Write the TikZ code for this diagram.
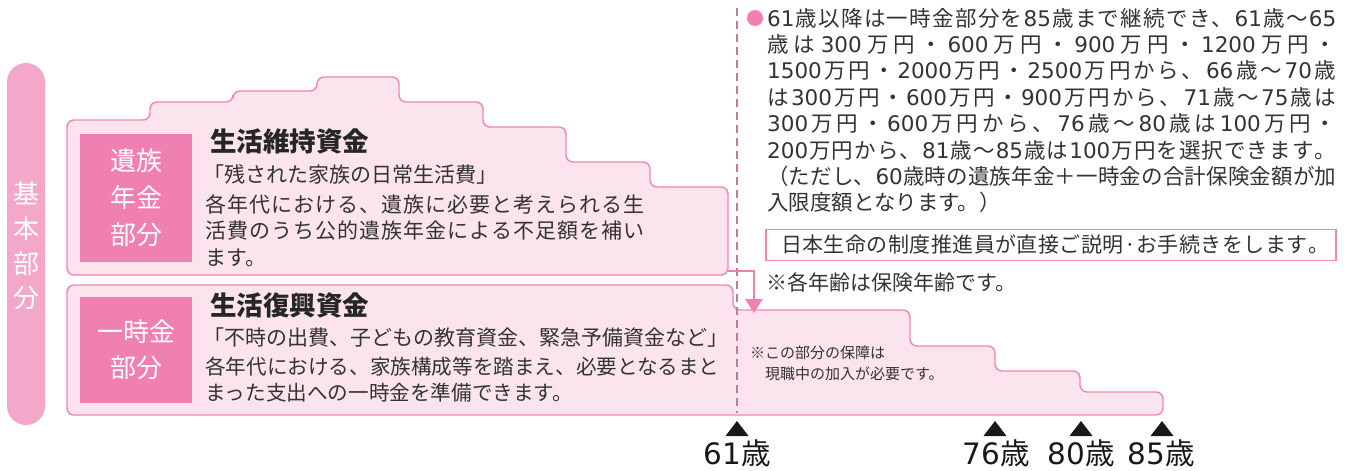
\documentclass[tikz,border=0pt]{standalone}
\usepackage{fontspec}
\setmainfont{Noto Sans CJK JP}
\newfontfamily\numfont{DejaVu Sans}
\newcommand\N[1]{{\numfont #1}}
\makeatletter
\newcommand\jline[2]{\hbox to #1{\@tfor\jl@c:=#2\do{\jl@c\hskip 0pt plus 1fil}\unskip}}
\makeatother
\usetikzlibrary{arrows.meta}
\definecolor{boxfill}{HTML}{FBE4EE}
\definecolor{boxline}{HTML}{EE86B6}
\definecolor{darkpink}{HTML}{EF80B1}
\definecolor{pillpink}{HTML}{F3A8CA}
\definecolor{dashcol}{HTML}{B87E9B}
\definecolor{txt}{HTML}{333333}
\begin{document}
\begin{tikzpicture}[x=1pt,y=-1pt,
  stepbox/.style={fill=boxfill,draw=boxline,line width=1.4pt,rounded corners=7pt},
  darkbox/.style={fill=darkpink,text=white,inner sep=0pt,align=center,minimum width=112pt,font=\fontsize{26}{37}\selectfont},
  title/.style={anchor=base west,inner sep=0pt,text=black!85,font=\fontsize{26.5}{30}\selectfont\bfseries},
  body/.style={anchor=base west,inner sep=0pt,text=txt,font=\fontsize{21}{26.5}\selectfont},
  rnote/.style={anchor=base west,inner sep=0pt,text=txt,font=\fontsize{21.5}{26.4}\selectfont},
  age/.style={anchor=base,inner sep=0pt,text=black!90,font=\fontsize{29.5}{32}\selectfont},
  tri/.style={fill=black!90}]
\useasboundingbox (0,0) rectangle (1352,471);

% left pill
\fill[pillpink,rounded corners=19pt] (7,63) rectangle (45,425);
\node[text=white,inner sep=0pt,align=center,font=\fontsize{26}{34.7}\selectfont] (kihon) at (26,246) {基\\本\\部\\分};

% upper staircase box
\filldraw[stepbox] (67,275) -- (67,120) -- (150,120) -- (150,102) -- (233,102) -- (233,91) -- (317,91) -- (317,77)
  -- (399,77) -- (399,102) -- (483,102) -- (483,127) -- (566,127) -- (566,162) -- (650,162) -- (650,187)
  -- (728,187) -- (728,275) -- cycle;
% lower staircase box
\filldraw[stepbox] (67,415) -- (67,285) -- (733,285) -- (733,310) -- (910,310) -- (910,346) -- (995,346)
  -- (995,371) -- (1080,371) -- (1080,392) -- (1163,392) -- (1163,415) -- cycle;

% inner dark boxes
\node[darkbox,minimum height=128pt] (izoku) at (136,198) {遺族\\年金\\部分};
\node[darkbox,minimum height=106pt,font=\fontsize{26}{36}\selectfont] (ichiji) at (136,350) {一時金\\部分};

% upper texts
\node[title] (t1) at (210,151) {生活維持資金};
\node[body] (q1) at (203,182) {「残された家族の日常生活費」};
\node[body] (b1a) at (205,212) {\jline{439pt}{各年代における、遺族に必要と考えられる生}};
\node[body] (b1b) at (205,238.5) {\jline{439pt}{活費のうち公的遺族年金による不足額を補い}};
\node[body] (b1c) at (205,265) {ます。};

% lower texts
\node[title] (t2) at (210,315) {生活復興資金};
\node[body] (q2) at (203,345) {「不時の出費、子どもの教育資金、緊急予備資金など」};
\node[body,font=\fontsize{20.6}{26}\selectfont] (b2a) at (205,374) {各年代における、家族構成等を踏まえ、必要となるまと};
\node[body,font=\fontsize{20.6}{26}\selectfont] (b2b) at (205,400) {まった支出への一時金を準備できます。};

% note inside lower box
\node[body,font=\fontsize{15}{20}\selectfont] (n1) at (750,358) {※この部分の保障は};
\node[body,font=\fontsize{15}{20}\selectfont] (n2) at (765,379) {現職中の加入が必要です。};

% dashed line at 61
\draw[dashcol,line width=1.5pt,dash pattern=on 8pt off 5pt] (737,8) -- (737,413);

% arrow from upper to lower box
\coordinate (arrS) at (728,271);
\coordinate (arrM) at (754,271);
\coordinate (arrE) at (754,313);
\draw[darkpink,line width=2.5pt,-{Triangle[width=17pt,length=14pt]}] (arrS) -- (arrM) -- (arrE);

% right text block
\fill[darkpink] (755,18) circle (8pt);
\node[rnote] (r1) at (767,26) {\jline{569pt}{{\N{61}}歳以降は一時金部分を{\N{85}}歳まで継続でき、{\N{61}}歳～{\N{65}}}};
\node[rnote] (r2) at (767,52.4) {\jline{569pt}{歳は{\N{300}}万円・{\N{600}}万円・{\N{900}}万円・{\N{1200}}万円・}};
\node[rnote] (r3) at (767,78.8) {\jline{569pt}{{\N{1500}}万円・{\N{2000}}万円・{\N{2500}}万円から、{\N{66}}歳～{\N{70}}歳}};
\node[rnote] (r4) at (767,105.2) {\jline{569pt}{は{\N{300}}万円・{\N{600}}万円・{\N{900}}万円から、{\N{71}}歳～{\N{75}}歳は}};
\node[rnote] (r5) at (767,131.6) {\jline{569pt}{{\N{300}}万円・{\N{600}}万円から、{\N{76}}歳～{\N{80}}歳は{\N{100}}万円・}};
\node[rnote] (r6) at (767,158) {\jline{569pt}{{\N{200}}万円から、{\N{81}}歳～{\N{85}}歳は{\N{100}}万円を選択できます。}};
\node[rnote] (r7) at (767,184.4) {\jline{569pt}{（ただし、{\N{60}}歳時の遺族年金＋一時金の合計保険金額が加}};
\node[rnote] (r8) at (767,210.8) {入限度額となります。）};

\node[draw=boxline,line width=1.2pt,minimum width=570pt,minimum height=31pt,inner sep=0pt,text=txt,font=\fontsize{21}{26}\selectfont] (seido) at (1051,245) {};
\node[inner sep=0pt,text=txt,font=\fontsize{21}{26}\selectfont] (seidotext) at (1055,245) {\jline{548pt}{日本生命の制度推進員が直接ご説明·お手続きをします。}};
\node[body] (kakunen) at (766,290) {※各年齢は保険年齢です。};

% age markers
\fill[tri] (737,421) -- (725.5,436) -- (748.5,436) -- cycle;
\fill[tri] (995,421) -- (983.5,436) -- (1006.5,436) -- cycle;
\fill[tri] (1081,421) -- (1069.5,436) -- (1092.5,436) -- cycle;
\fill[tri] (1162,421) -- (1150.5,436) -- (1173.5,436) -- cycle;
\node[age] (a61) at (737,464) {\N{61}歳};
\node[age] (a76) at (996,464) {\N{76}歳};
\node[age] (a80) at (1081,464) {\N{80}歳};
\node[age] (a85) at (1161,464) {\N{85}歳};
\end{tikzpicture}
\end{document}
